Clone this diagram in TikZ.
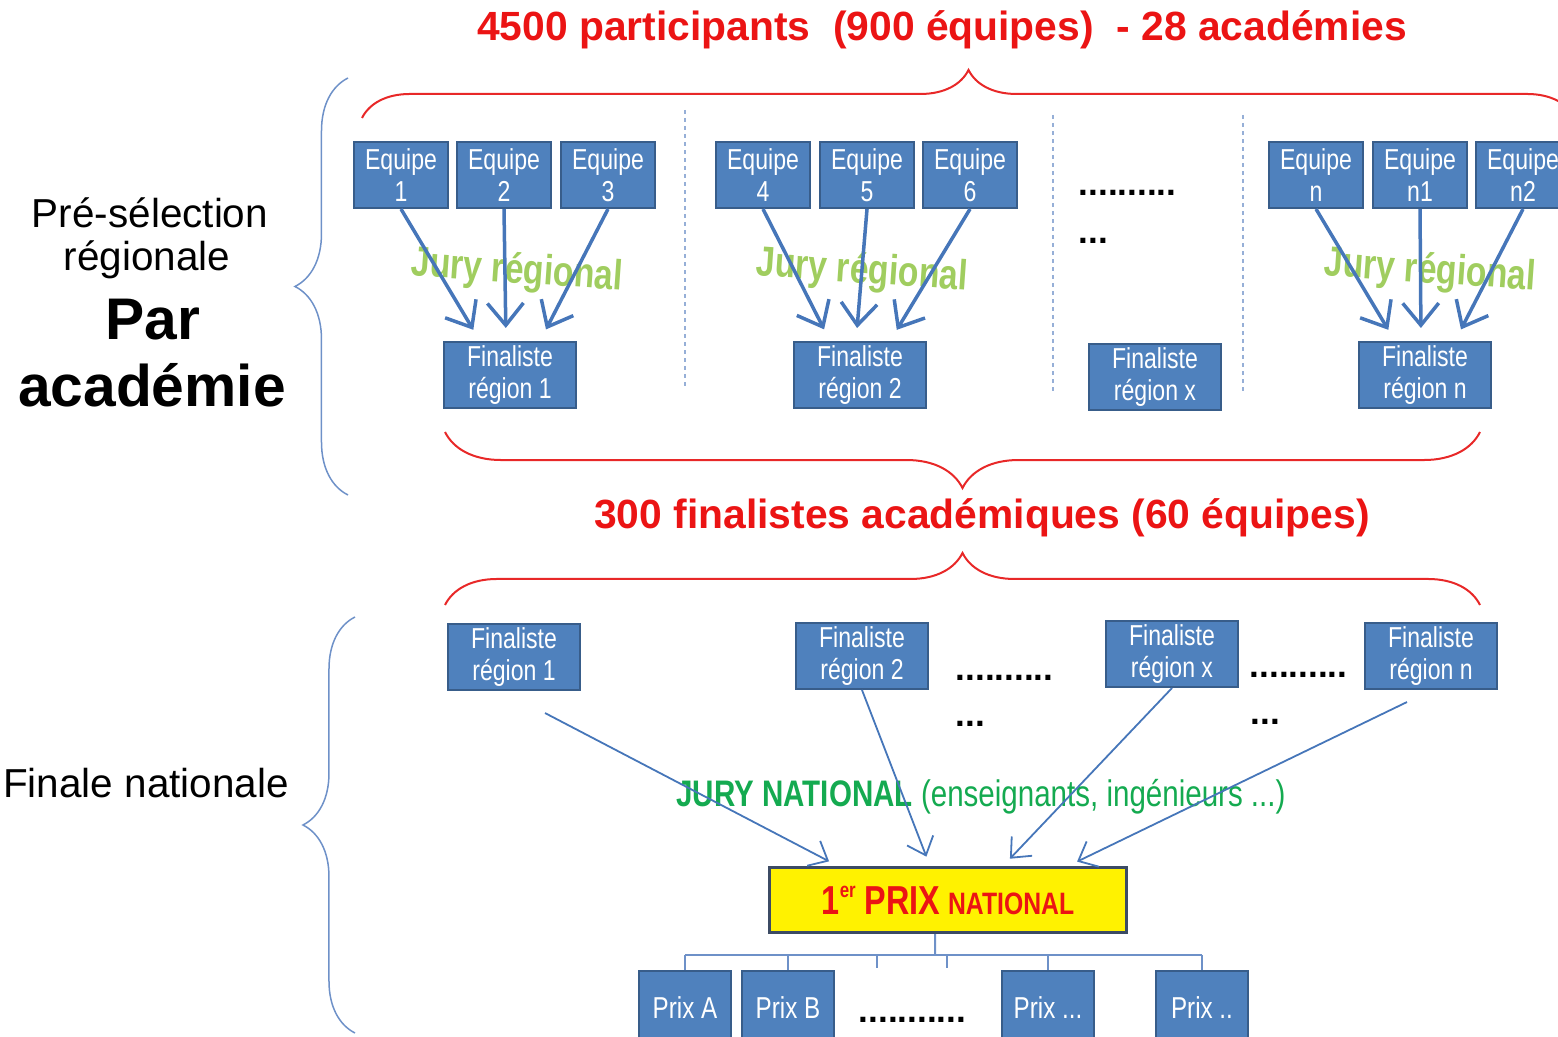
\documentclass[tikz,border=0pt]{standalone}
\usepackage{fontspec}
\setmainfont{Liberation Sans}
\newfontfamily\narrowfont[FakeStretch=0.8]{Liberation Sans}
\usetikzlibrary{arrows.meta,decorations.pathreplacing,positioning}
\definecolor{boxblue}{RGB}{79,129,189}
\definecolor{boxline}{RGB}{56,93,138}
\definecolor{arrowblue}{RGB}{70,118,185}
\definecolor{bracered}{RGB}{232,40,40}
\definecolor{titlered}{RGB}{235,20,20}
\definecolor{braceblue}{RGB}{110,145,200}
\definecolor{juryvert}{RGB}{160,205,95}
\definecolor{natvert}{RGB}{20,170,80}
\definecolor{sepblue}{RGB}{150,175,215}
\definecolor{prixline}{RGB}{60,75,100}

\begin{document}
\begin{tikzpicture}[x=0.01cm,y=-0.01cm,
  >={Straight Barb[length=2.2mm,width=3.6mm]},
  equipe/.style={rectangle, draw=boxline, line width=0.2mm, fill=boxblue, text=white, minimum width=9.3mm, minimum height=6.6mm, inner sep=0pt, align=center, font=\narrowfont\fontsize{8.2}{9}\selectfont},
  finaliste/.style={equipe, minimum width=13.1mm},
  prix/.style={equipe, minimum width=9.2mm, minimum height=7.4mm, font=\narrowfont\fontsize{8.6}{9}\selectfont},
  premier/.style={rectangle, draw=prixline, line width=0.3mm, fill=yellow, minimum width=35.6mm, minimum height=6.5mm, inner sep=0pt, text=titlered, font=\narrowfont\bfseries},
  jury/.style={text=juryvert, font=\narrowfont\bfseries\fontsize{12}{12}\selectfont, rotate=-4},
  regarrow/.style={->, draw=arrowblue, line width=0.35mm, shorten >=1.3mm},
  natarrow/.style={->, draw=arrowblue, line width=0.18mm, shorten >=1mm, >={Straight Barb[length=1.6mm,width=2.8mm]}},
  tree/.style={draw=braceblue, line width=0.2mm},
  sep/.style={draw=sepblue, line width=0.2mm, dash pattern=on 0.4mm off 0.4mm},
  dots/.style={font=\bfseries\fontsize{10}{10}\selectfont, inner sep=0pt, anchor=base west},
  redbrace/.style={draw=bracered, line width=0.2mm, decorate, decoration={brace, amplitude=#1}},
  bluebrace/.style={draw=braceblue, line width=0.15mm, decorate, decoration={brace, amplitude=#1}},
  title/.style={text=titlered, font=\bfseries\fontsize{11.6}{12}\selectfont},
  side/.style={font=\fontsize{11.5}{12}\selectfont},
  bigside/.style={font=\bfseries\fontsize{16.7}{17}\selectfont}
]
\useasboundingbox (0,0) rectangle (1558,1037);
\clip (0,0) rectangle (1558,1037);

\node[title] (t1) at (942,30) {4500 participants\ \ (900 équipes)\ \ - 28 académies};
\node[title] (t2) at (982,518) {300 finalistes académiques (60 équipes)};

\draw[redbrace=4.8mm] (362,118) -- (1575,118);
\draw[redbrace=5.6mm] (1480,432) -- (445,432);
\draw[redbrace=5.2mm] (445,605) -- (1480,605);

\draw[bluebrace=5.3mm] (348,495) -- (348,78);
\draw[bluebrace=5.2mm] (355,1033) -- (355,617);

\node[side] (s1) at (150,213) {Pré-sélection};
\node[side] (s2) at (147,260) {régionale};
\node[bigside] (s3) at (153,320) {Par};
\node[bigside] (s4) at (152,385) {académie};
\node[side] (s5) at (146,783) {Finale nationale};

\draw[sep] (685,110) -- (685,390);
\draw[sep] (1053,115) -- (1053,393);
\draw[sep] (1243,115) -- (1243,395);

\foreach \x/\n/\lab in {401/1/1, 504/2/2, 608/3/3, 763/4/4, 867/5/5, 970/6/6, 1316/7/n, 1420/8/n1, 1523/9/n2} {
  \node[equipe] (e\n) at (\x,175) {Equipe\\\lab};
}

\node[finaliste] (f1) at (510,375) {Finaliste\\région 1};
\node[finaliste] (f2) at (860,375) {Finaliste\\région 2};
\node[finaliste] (fx) at (1155,377) {Finaliste\\région x};
\node[finaliste] (fn) at (1425,375) {Finaliste\\région n};

\node[jury] (j1) at (517,272) {Jury régional};
\node[jury] (j2) at (862,272) {Jury régional};
\node[jury] (j3) at (1430,272) {Jury régional};

\foreach \a/\b/\c/\f in {1/2/3/f1, 4/5/6/f2, 7/8/9/fn} {
  \draw[regarrow] (e\a.south) -- ([xshift=-3mm]\f.north);
  \draw[regarrow] (e\b.south) -- ([xshift=-0.4mm]\f.north);
  \draw[regarrow] (e\c.south) -- ([xshift=3mm]\f.north);
}

\node[dots] (d1) at (1078,196) {..........};
\node[dots] (d2) at (1078,244) {...};

\node[finaliste] (g1) at (514,657) {Finaliste\\région 1};
\node[finaliste] (g2) at (862,656) {Finaliste\\région 2};
\node[finaliste] (gx) at (1172,654) {Finaliste\\région x};
\node[finaliste] (gn) at (1431,656) {Finaliste\\région n};

\node[dots] (d3) at (955,680) {..........};
\node[dots] (d4) at (955,726) {...};
\node[dots] (d5) at (1249,677) {..........};
\node[dots] (d6) at (1250,724) {...};

\node[text=natvert, font=\narrowfont\fontsize{10.5}{11}\selectfont] (jn) at (981,797) {{\bfseries JURY NATIONAL} (enseignants, ingénieurs ...)};

\node[premier] (p) at (948,900) {{\fontsize{11.5}{12}\selectfont 1\raisebox{0.42em}{\fontsize{6}{6}\selectfont er} PRIX} {\fontsize{8.8}{10}\selectfont NATIONAL}};

\draw[natarrow] ([xshift=3.1mm,yshift=-2.2mm]g1.south) -- ([xshift=-11mm]p.north);
\draw[natarrow] (g2.south) -- ([xshift=-1.8mm]p.north);
\draw[natarrow] (gx.south) -- ([xshift=5.5mm]p.north);
\draw[natarrow] ([xshift=-2.4mm,yshift=-1.2mm]gn.south) -- ([xshift=12mm]p.north);

\node[prix] (pa) at (685,1008) {Prix A};
\node[prix] (pb) at (788,1008) {Prix B};
\node[prix] (pc) at (1048,1008) {Prix ...};
\node[prix] (pd) at (1202,1008) {Prix ..};
\node[dots] (d7) at (858,1022) {...........};

\coordinate (tj) at (935,955);
\draw[tree] ([xshift=-1.3mm]p.south) -- (tj);
\draw[tree] (pa.north |- tj) -- (pd.north |- tj);
\foreach \b in {pa,pb,pc,pd} {
  \draw[tree] (\b.north) -- (\b.north |- tj);
}
\draw[tree] (877,955) -- (877,968);
\draw[tree] (947,955) -- (947,968);
\end{tikzpicture}
\end{document}
